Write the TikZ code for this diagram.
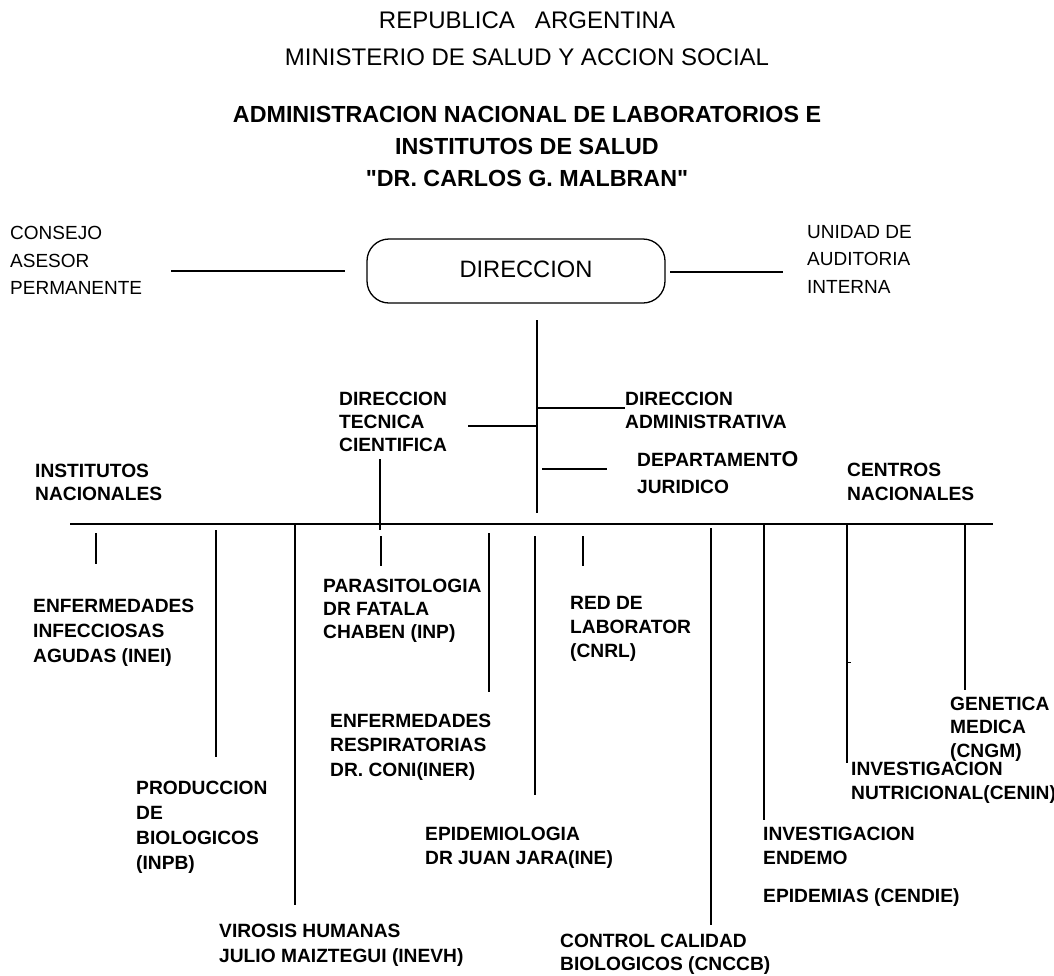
\documentclass[tikz,border=0pt]{standalone}
\usepackage{fontspec}
\setmainfont{Liberation Sans}[Ligatures=TeXOff]
\begin{document}
\begin{tikzpicture}[x=1pt,y=-1pt,
  conn/.style={line width=1.3pt},
  reg/.style={anchor=north west, inner sep=0pt, align=left, font=\fontsize{19}{27.5}\selectfont},
  bld/.style={anchor=north west, inner sep=0pt, align=left, font=\bfseries\fontsize{19.2}{#1}\selectfont},
  bld/.default=24,
  ttl/.style={inner sep=0pt, font=\fontsize{24}{28}\selectfont},
  bttl/.style={inner sep=0pt, font=\bfseries\fontsize{23.3}{28}\selectfont},
  box/.style={draw, line width=1.3pt, rounded corners=22pt, minimum width=298pt, minimum height=64pt, inner sep=0pt, font=\fontsize{23.7}{28}\selectfont}]
\useasboundingbox (0,0) rectangle (1054,975);

% titles
\node[ttl] (t1) at (527,20) {REPUBLICA~~~ARGENTINA};
\node[ttl] (t2) at (527,57) {MINISTERIO DE SALUD Y ACCION SOCIAL};
\node[bttl] (t3) at (527,114) {ADMINISTRACION NACIONAL DE LABORATORIOS E};
\node[bttl] (t4) at (527,146) {INSTITUTOS DE SALUD};
\node[bttl] (t5) at (527,178) {"DR. CARLOS G. MALBRAN"};

% top level
\node[box] (dir) at (516,271) {\hspace*{20pt}\raisebox{4pt}{DIRECCION}};
\node[reg] (cap) at (10,226.2) {CONSEJO\\ASESOR\\PERMANENTE};
\node[reg] (uai) at (807,225.2) {UNIDAD DE\\AUDITORIA\\INTERNA};

\coordinate (capA) at (171,271);
\coordinate (capB) at (345,271);
\coordinate (uaiA) at (670,272);
\coordinate (uaiB) at (783,272);
\draw[conn] (capA) -- (capB);
\draw[conn] (uaiA) -- (uaiB);

% second level
\node[bld=23] (dtc) at (339,391.4) {DIRECCION\\TECNICA\\CIENTIFICA};
\node[bld=23] (dad) at (625,391.4) {DIRECCION\\ADMINISTRATIVA};
\node[bld=27] (dju) at (637,451.4) {DEPARTAMENT{\fontsize{21.5}{27}\selectfont O}\\JURIDICO};
\node[bld=23] (inst) at (35,463.4) {INSTITUTOS\\NACIONALES};
\node[bld=24] (cent) at (847,462.4) {CENTROS\\NACIONALES};

\coordinate (mainTop) at (537,320);
\coordinate (mainBot) at (537,513);
\coordinate (dadA) at (537,408);
\coordinate (dadB) at (625,408);
\coordinate (dtcA) at (468,426);
\coordinate (dtcB) at (537,426);
\coordinate (djuA) at (542,469);
\coordinate (djuB) at (607,469);
\coordinate (dtcDownA) at (380,459);
\coordinate (dtcDownB) at (380,530);
\draw[conn] (mainTop) -- (mainBot);
\draw[conn] (dadA) -- (dadB);
\draw[conn] (dtcA) -- (dtcB);
\draw[conn] (djuA) -- (djuB);
\draw[conn] (dtcDownA) -- (dtcDownB);

% bus
\coordinate (busL) at (70,524);
\coordinate (busR) at (993,524);
\draw[conn] (busL) -- (busR);

% third level labels
\node[bld=25] (inei) at (33,598.4) {ENFERMEDADES\\INFECCIOSAS\\AGUDAS (INEI)};
\node[bld=25] (inpb) at (136,780.4) {PRODUCCION\\DE\\BIOLOGICOS\\(INPB)};
\node[bld=25] (inevh) at (219,923.4) {VIROSIS HUMANAS\\JULIO MAIZTEGUI (INEVH)};
\node[bld=23] (inp) at (323,578.4) {PARASITOLOGIA\\DR FATALA\\CHABEN (INP)};
\node[bld=24.5] (iner) at (330,713.4) {ENFERMEDADES\\RESPIRATORIAS\\DR. CONI(INER)};
\node[bld=24] (ine) at (425,826.4) {EPIDEMIOLOGIA\\DR JUAN JARA(INE)};
\node[bld=24] (cnrl) at (570,596.4) {RED DE\\LABORATOR\\(CNRL)};
\node[bld=23] (cnccb) at (560,933.4) {CONTROL CALIDAD\\BIOLOGICOS (CNCCB)};
\node[bld=24] (cendie) at (763,826.4) {INVESTIGACION\\ENDEMO};
\node[bld=24] (cendie2) at (763,888.4) {EPIDEMIAS (CENDIE)};
\node[bld=23.5] (cngm) at (950,696.4) {GENETICA\\MEDICA\\(CNGM)};
\node[bld=24] (cenin) at (851,761.4) {INVESTIGACION\\NUTRICIONAL(CENIN)};

% drops
\foreach \n/\x/\a/\b in {d1/96/533/564, d2/216/530/757, d3/295/524/905, d4/381/536/566,
  d5/489/533/692, d6/535/536/795, d7/583/536/566, d8/711/528/925, d9/764/524/820,
  d10/847/524/763, d11/965/524/690}{
  \coordinate (\n a) at (\x,\a);
  \coordinate (\n b) at (\x,\b);
  \draw[conn] (\n a) -- (\n b);
}
\coordinate (tickA) at (847,662);
\coordinate (tickB) at (851,662);
\draw[line width=1pt] (tickA) -- (tickB);
\end{tikzpicture}
\end{document}
